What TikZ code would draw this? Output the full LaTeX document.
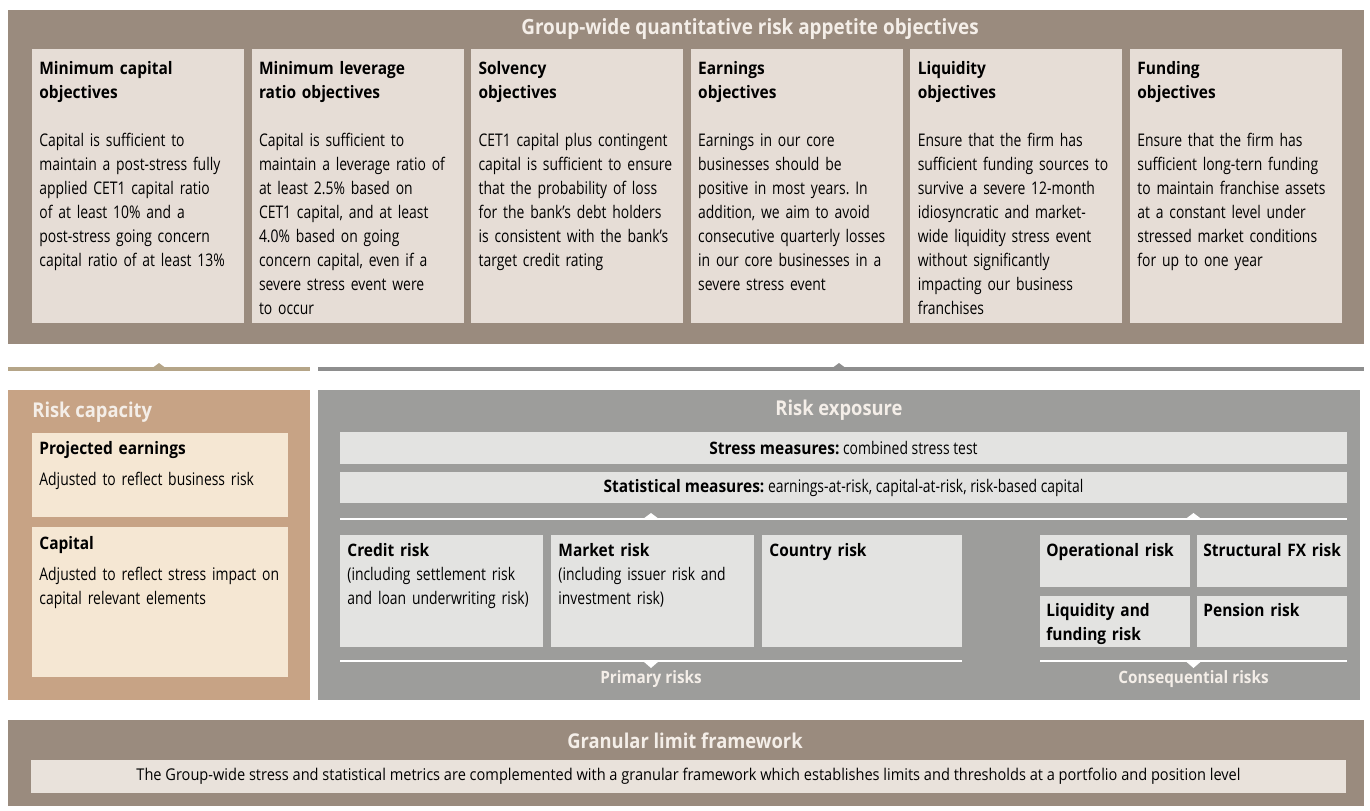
\documentclass[tikz,border=0pt]{standalone}
\usepackage{fontspec}
\setmainfont[FakeStretch=0.8]{Open Sans}
\newfontfamily\headfont[FakeStretch=0.9]{Open Sans}
\usepackage{tikz}
\usetikzlibrary{positioning,calc}

\definecolor{appbg}{HTML}{9A8B7E}
\definecolor{objfill}{HTML}{E6DDD6}
\definecolor{capbg}{HTML}{C7A385}
\definecolor{capfill}{HTML}{F5E7D3}
\definecolor{expbg}{HTML}{9D9D9B}
\definecolor{expfill}{HTML}{E3E3E1}
\definecolor{limfill}{HTML}{E9E2DB}
\definecolor{ttlcol}{HTML}{F4EEE8}
\definecolor{capgold}{HTML}{B5A588}
\definecolor{expgrey}{HTML}{8E8E8E}

\newcommand{\bodysize}{\fontsize{8.7}{12}\selectfont}
\newcommand{\headsize}{\headfont\bfseries\fontsize{8.6}{12}\selectfont}

\begin{document}
\frenchspacing
\begin{tikzpicture}[
  x=0.5pt, y=-0.5pt,
  panel/.style={anchor=north west, inner sep=0pt, outer sep=0pt},
  objbox/.style={panel, fill=objfill, minimum width=106pt, minimum height=137pt},
  capbox/.style={panel, fill=capfill, minimum width=128pt},
  bar/.style={panel, fill=expfill, minimum width=503.5pt, minimum height=16pt, font=\bodysize},
  riskbox/.style={panel, fill=expfill, minimum height=56pt},
  conbox/.style={panel, fill=expfill, minimum width=75pt, minimum height=26pt},
  txt/.style={anchor=north west, inner sep=0pt, text width=112pt, align=left, font=\bodysize},
  hd/.style={font=\headsize},
  ttl/.style={inner sep=0pt, text=ttlcol, font=\headfont\bfseries\fontsize{10.2}{12}\selectfont},
  sub/.style={inner sep=0pt, text=ttlcol, font=\headfont\bfseries\fontsize{8.5}{10}\selectfont},
  capline/.style={line width=1.6pt, draw=capgold},
  expline/.style={line width=1.6pt, draw=expgrey},
  wline/.style={line width=1.4pt, draw=white}
]
\useasboundingbox (0,0) rectangle (1370,810);

% group-wide objectives
\node[panel, fill=appbg, minimum width=678pt, minimum height=167pt] (appetite) at (8,10) {};
\node[ttl, font=\headfont\bfseries\fontsize{10.5}{12}\selectfont] (appttl) at (750,29) {Group-wide quantitative risk appetite objectives};
\node[objbox] (mincap) at (32,49) {};
\node[objbox, right=3.8pt of mincap] (minlev) {};
\node[objbox, right=3.8pt of minlev] (solv) {};
\node[objbox, right=3.8pt of solv] (earn) {};
\node[objbox, right=3.8pt of earn] (liq) {};
\node[objbox, right=3.8pt of liq] (fund) {};

\node[txt] at ([shift={(7,12)}]mincap.north west) {{\headsize Minimum capital\\objectives}\\[12pt]
  Capital is sufficient to\\maintain a post-stress fully\\applied CET1 capital ratio\\of at least 10\% and a\\post-stress going concern\\capital ratio of at least 13\%};
\node[txt] at ([shift={(7,12)}]minlev.north west) {{\headsize Minimum leverage\\ratio objectives}\\[12pt]
  Capital is sufficient to\\maintain a leverage ratio of\\at least 2.5\% based on\\CET1 capital, and at least\\4.0\% based on going\\concern capital, even if a\\severe stress event were\\to occur};
\node[txt] at ([shift={(7,12)}]solv.north west) {{\headsize Solvency\\objectives}\\[12pt]
  CET1 capital plus contingent\\capital is sufficient to ensure\\that the probability of loss\\for the bank’s debt holders\\is consistent with the bank’s\\target credit rating};
\node[txt] at ([shift={(7,12)}]earn.north west) {{\headsize Earnings\\objectives}\\[12pt]
  Earnings in our core\\businesses should be\\positive in most years. In\\addition, we aim to avoid\\consecutive quarterly losses\\in our core businesses in a\\severe stress event};
\node[txt] at ([shift={(7,12)}]liq.north west) {{\headsize Liquidity\\objectives}\\[12pt]
  Ensure that the firm has\\sufficient funding sources to\\survive a severe 12-month\\idiosyncratic and market-\\wide liquidity stress event\\without significantly\\impacting our business\\franchises};
\node[txt] at ([shift={(7,12)}]fund.north west) {{\headsize Funding\\objectives}\\[12pt]
  Ensure that the firm has\\sufficient long-tern funding\\to maintain franchise assets\\at a constant level under\\stressed market conditions\\for up to one year};

% risk capacity
\node[panel, fill=capbg, minimum width=151pt, minimum height=155pt] (riskcap) at (8,390) {};
\node[ttl, anchor=west] (capttl) at (32,412) {Risk capacity};
\node[capbox, minimum height=42pt] (projearn) at (32,433) {};
\node[capbox, minimum height=75pt] (capital) at (32,527) {};
\node[txt, text width=126pt] at ([shift={(7,8)}]projearn.north west) {{\headsize Projected earnings}\\[3.5pt]
  Adjusted to reflect business risk};
\node[txt, text width=126pt] at ([shift={(7,9)}]capital.north west) {{\headsize Capital}\\[3.5pt]
  Adjusted to reflect stress impact on\\capital relevant elements};

% risk exposure
\node[panel, fill=expbg, minimum width=521pt, minimum height=155pt] (riskexp) at (318,390) {};
\node[ttl] (expttl) at (839,410) {Risk exposure};
\node[bar] (stress) at (340,432) {{\headsize Stress measures:} combined stress test};
\node[bar, minimum height=15.5pt] (stat) at (340,472) {{\headsize Statistical measures:} earnings-at-risk, capital-at-risk, risk-based capital};

\node[riskbox, minimum width=101.5pt] (credit) at (340,535) {};
\node[riskbox, minimum width=101.5pt, right=4pt of credit] (market) {};
\node[riskbox, minimum width=100pt, right=4pt of market] (country) {};
\node[txt] at ([shift={(7,8)}]credit.north west) {{\headsize Credit risk}\\
  (including settlement risk\\and loan underwriting risk)};
\node[txt] at ([shift={(7,8)}]market.north west) {{\headsize Market risk}\\
  (including issuer risk and\\investment risk)};
\node[txt] at ([shift={(7,8)}]country.north west) {{\headsize Country risk}};

\node[conbox] (oprisk) at (1040,535) {};
\node[conbox, right=3.5pt of oprisk] (fxrisk) {};
\node[conbox, minimum height=25.5pt] (liqrisk) at (1040,596) {};
\node[conbox, minimum height=25.5pt, right=3.5pt of liqrisk] (penrisk) {};
\node[txt, text width=72pt] at ([shift={(6,8)}]oprisk.north west) {{\headsize Operational risk}};
\node[txt, text width=72pt] at ([shift={(6,8)}]fxrisk.north west) {{\headsize Structural FX risk}};
\node[txt, text width=72pt] at ([shift={(6,7)}]liqrisk.north west) {{\headsize Liquidity and\\funding risk}};
\node[txt, text width=72pt] at ([shift={(6,7)}]penrisk.north west) {{\headsize Pension risk}};

% white rules inside risk exposure
\coordinate (topL) at (stat.west |- 0,519);
\coordinate (topR) at (stat.east |- 0,519);
\coordinate (primL) at (credit.west |- 0,661);
\coordinate (primR) at (country.east |- 0,661);
\coordinate (consL) at (oprisk.west |- 0,661);
\coordinate (consR) at (fxrisk.east |- 0,661);
\coordinate (primM) at ($(primL)!0.5!(primR)$);
\coordinate (consM) at ($(consL)!0.5!(consR)$);
\draw[wline] (topL) -- (topR);
\draw[wline] (primL) -- (primR);
\draw[wline] (consL) -- (consR);
\fill[white] ([shift={(-8,0)}]primM |- topL) -- ++(8,-6) -- ++(8,6) -- cycle;
\fill[white] ([shift={(-8,0)}]consM |- topL) -- ++(8,-6) -- ++(8,6) -- cycle;
\fill[white] ([shift={(-8,0)}]primM) -- ++(8,7) -- ++(8,-7) -- cycle;
\fill[white] ([shift={(-8,0)}]consM) -- ++(8,7) -- ++(8,-7) -- cycle;
\node[sub] (primlbl) at ($(primM)+(0,18)$) {Primary risks};
\node[sub] (conslbl) at ($(consM)+(0,18)$) {Consequential risks};

% links up to the objectives
\coordinate (capL) at (riskcap.west |- 0,369);
\coordinate (capR) at (riskcap.east |- 0,369);
\coordinate (expL) at (riskexp.west |- 0,369);
\coordinate (expR) at (appetite.east |- 0,369);
\draw[capline] (capL) -- (capR);
\draw[expline] (expL) -- (expR);
\fill[capgold] ([shift={(-8,0)}]riskcap.north |- capL) -- ++(8,-6) -- ++(8,6) -- cycle;
\fill[expgrey] ([shift={(-8,0)}]riskexp.north |- expL) -- ++(8,-6) -- ++(8,6) -- cycle;

% granular limits
\node[panel, fill=appbg, minimum width=678pt, minimum height=43pt] (limits) at (8,720) {};
\node[ttl] (limttl) at (685,741) {Granular limit framework};
\node[bar, fill=limfill, minimum width=657.5pt, minimum height=16.5pt, font=\headfont\fontsize{8.1}{12}\selectfont] (limbar) at (31,760)
  {The Group-wide stress and statistical metrics are complemented with a granular framework which establishes limits and thresholds at a portfolio and position level};
\end{tikzpicture}
\end{document}
